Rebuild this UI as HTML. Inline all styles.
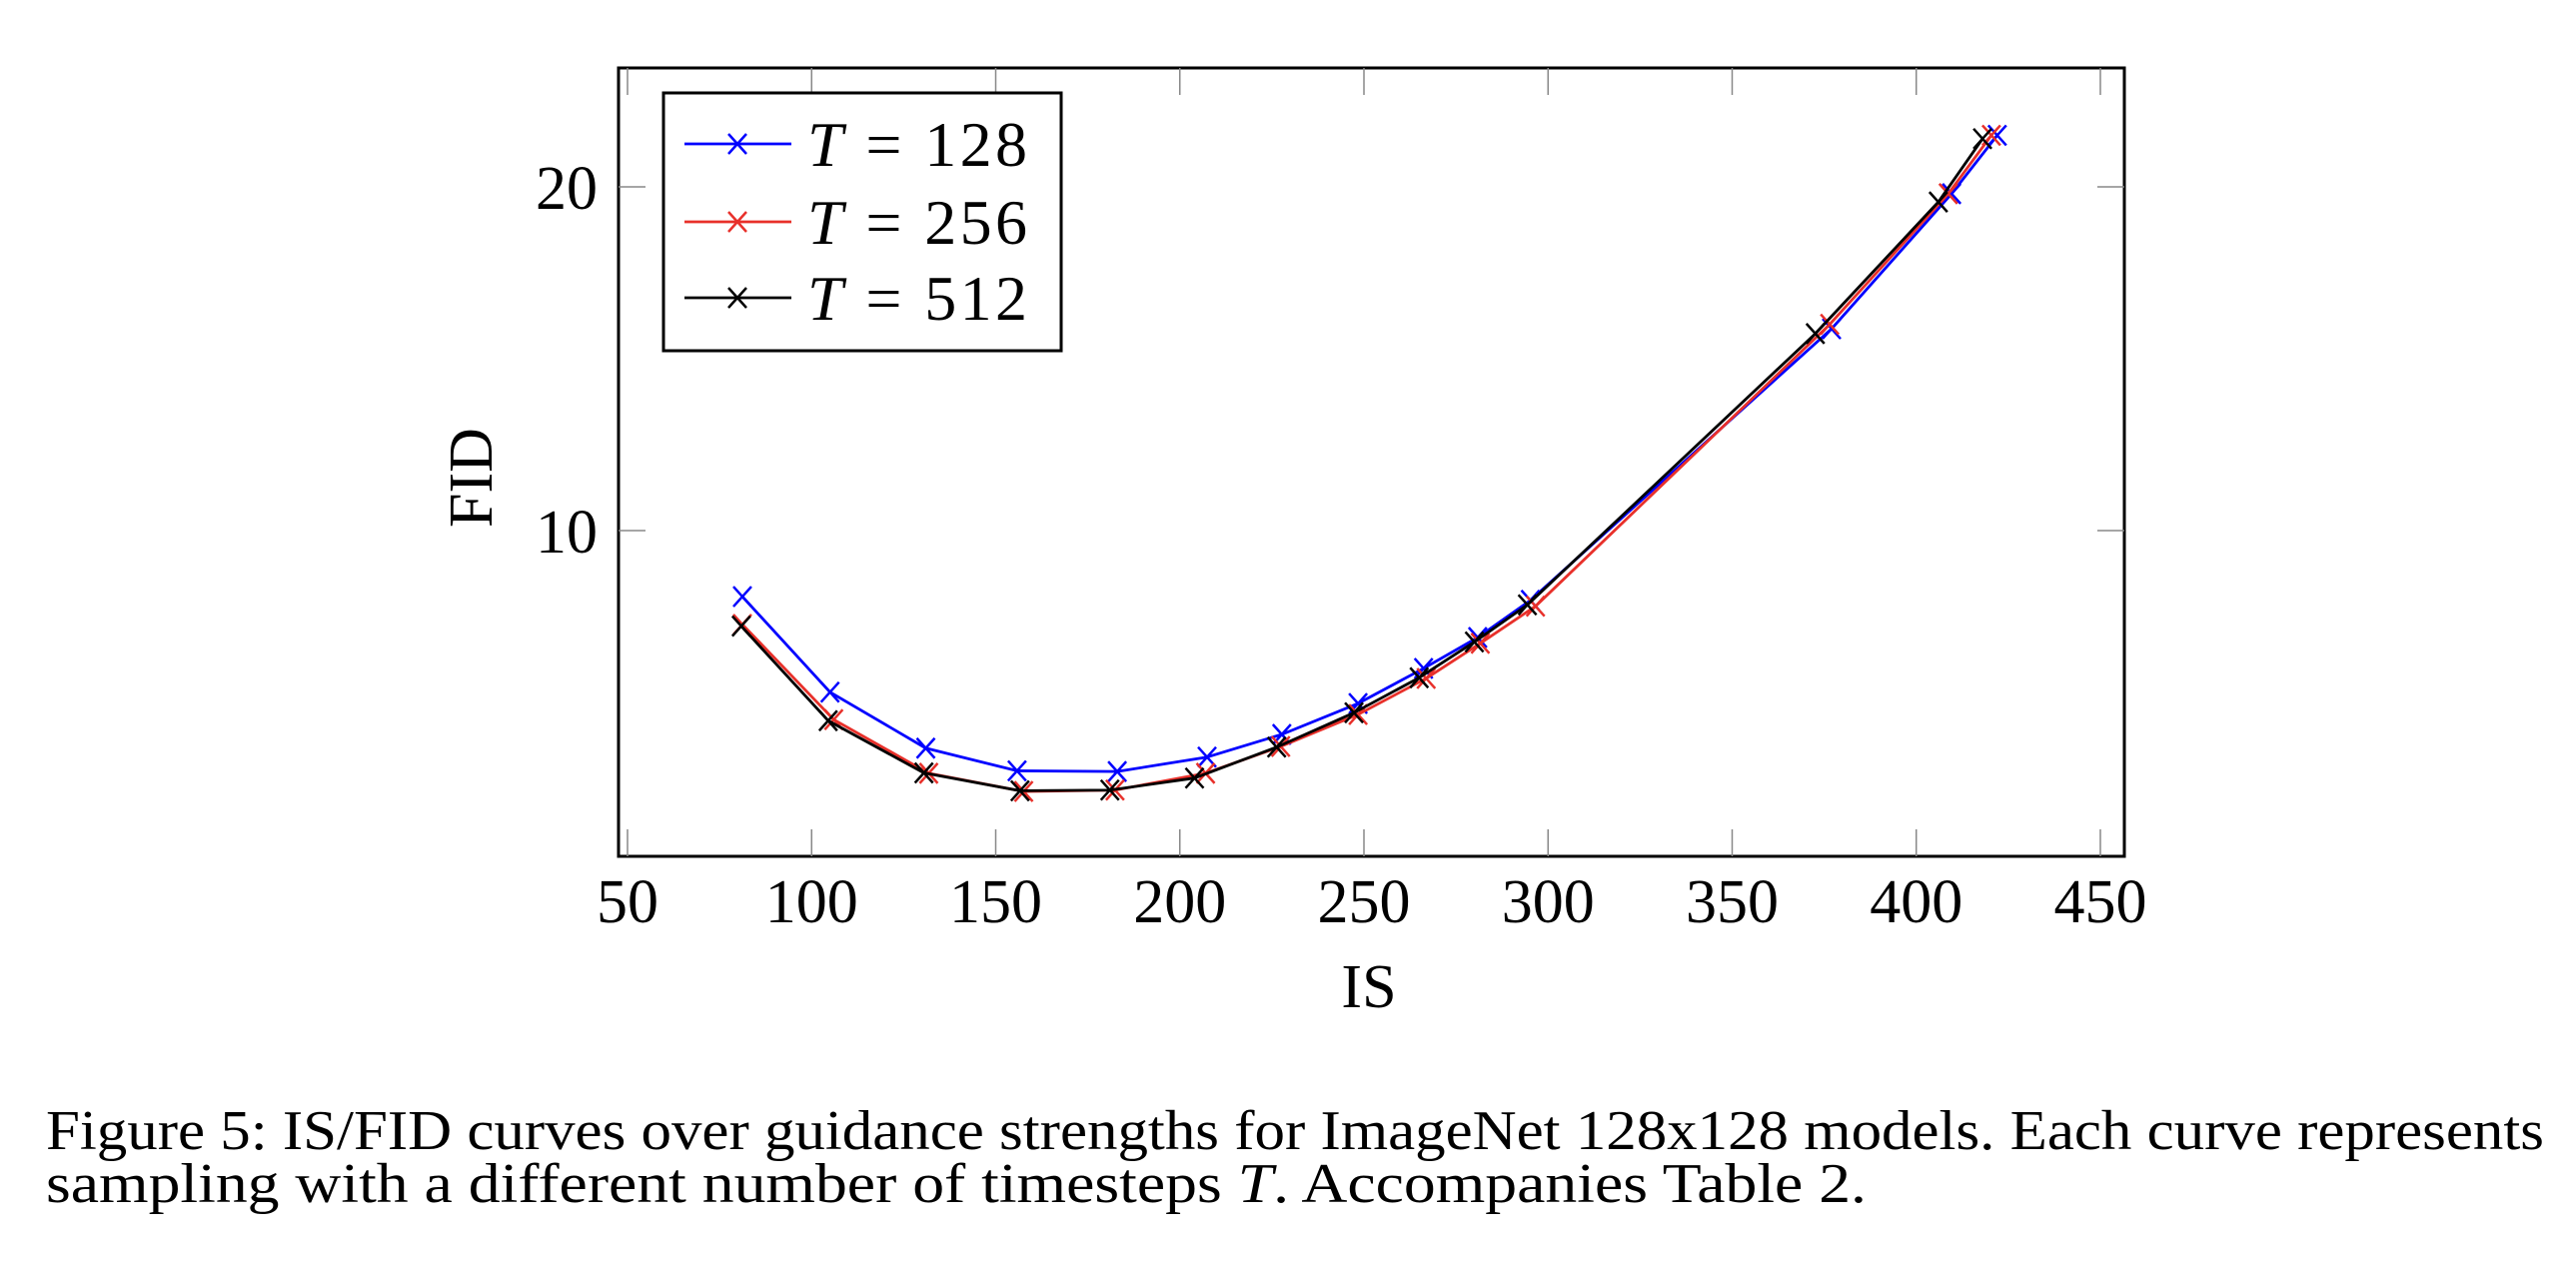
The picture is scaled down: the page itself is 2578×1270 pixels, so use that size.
<!DOCTYPE html>
<html><head><meta charset="utf-8"><style>
html,body{margin:0;padding:0;background:#fff;}
svg{display:block;}
text{font-family:"Liberation Serif",serif;fill:#000;}
</style></head><body>
<svg id="chart" width="2578" height="1270" viewBox="0 0 2578 1270" xmlns="http://www.w3.org/2000/svg">
<rect x="619" y="68" width="1507" height="789" fill="none" stroke="#000" stroke-width="3"/>
<g id="ticks"></g>
<g id="series"></g>
<text x="1370" y="1008" font-size="62" text-anchor="middle">IS</text>
<text transform="translate(492,478) rotate(-90)" font-size="62" text-anchor="middle">FID</text>
<g>
<rect x="664" y="93" width="398" height="258" fill="#fff" stroke="#000" stroke-width="3"/>
<g id="legend-items"></g>
</g>
<text x="46" y="1150" font-size="56" textLength="2500" lengthAdjust="spacingAndGlyphs">Figure 5: IS/FID curves over guidance strengths for ImageNet 128x128 models. Each curve represents</text>
<text x="46" y="1203" font-size="56" textLength="1822" lengthAdjust="spacingAndGlyphs">sampling with a different number of timesteps <tspan font-style="italic">T</tspan>. Accompanies Table 2.</text>
</svg>
<script>
const xTicks=[50,100,150,200,250,300,350,400,450];
const yTicks=[10,20];
const seriesNames=["T = 128","T = 256","T = 512"];
const seriesColors=["#0000ff","#e8302a","#000000"];
const is128=[81.2,105,131,155.8,183,207.4,227.7,248.4,266.2,280.9,295.2,377,409.6,422];
const fid128=[8.08,5.30,3.67,3.01,2.99,3.41,4.07,4.97,5.99,6.89,7.97,15.87,19.8,21.5];
const is256=[81.2,106,131.8,157.6,182.4,207,227.4,248.4,266.9,281.6,296.6,376.5,408.7,420.4];
const fid256=[7.27,4.5,2.94,2.41,2.45,2.94,3.72,4.65,5.70,6.72,7.80,16.0,19.8,21.5];
const is512=[80.9,104.5,130.5,156.6,181,204,226.3,247.3,265,280,294.4,372.6,406,418];
const fid512=[7.22,4.47,2.95,2.43,2.45,2.8,3.7,4.7,5.72,6.76,7.84,15.73,19.56,21.4];
const allIS=[is128,is256,is512], allFID=[fid128,fid256,fid512];
const NS="http://www.w3.org/2000/svg";
const X=v=>628+(v-50)*3.685;
const Y=v=>875-v*34.4;
function mk(tag,attrs,parent){const e=document.createElementNS(NS,tag);for(const k in attrs)e.setAttribute(k,attrs[k]);parent.appendChild(e);return e;}
const tg=document.getElementById('ticks');
xTicks.forEach(t=>{
  const a=mk('line',{x1:X(t),x2:X(t),y1:857,y2:830,stroke:'#888','stroke-width':1.5},tg);
  
  
  const b=mk('line',{x1:X(t),x2:X(t),y1:68,y2:95,stroke:'#888','stroke-width':1.5},tg);
  
  
  const l=mk('text',{x:X(t),y:923,'font-size':62,'text-anchor':'middle'},tg);
  l.textContent=t;
  
  
});
yTicks.forEach(t=>{
  const a=mk('line',{x1:619,x2:646,y1:Y(t),y2:Y(t),stroke:'#888','stroke-width':1.5},tg);
  
  
  const b=mk('line',{x1:2099,x2:2126,y1:Y(t),y2:Y(t),stroke:'#888','stroke-width':1.5},tg);
  
  
  const l=mk('text',{x:598,y:Y(t)+22,'font-size':62,'text-anchor':'end'},tg);
  l.textContent=t;
  
  
});
function cross(g,x,y,c){
  const p=mk('path',{d:`M${x-9},${y-10}L${x+9},${y+10}M${x-9},${y+10}L${x+9},${y-10}`,stroke:c,'stroke-width':2.5,fill:'none'},g);
  
  
}
const sg=document.getElementById('series');
allIS.forEach((xs,i)=>{
  const g=mk('g',{},sg);
  
  
  const pts=xs.map((v,j)=>X(v)+','+Y(allFID[i][j])).join(' ');
  const pl=mk('polyline',{points:pts,fill:'none',stroke:seriesColors[i],'stroke-width':2.8,'stroke-linejoin':'round'},g);
  
  
  xs.forEach((v,j)=>cross(g,X(v),Y(allFID[i][j]),seriesColors[i]));
});
const lg=document.getElementById('legend-items');
const rowY=[144,222,298];
seriesNames.forEach((n,i)=>{
  const g=mk('g',{},lg);
  
  
  mk('line',{x1:685,x2:792,y1:rowY[i],y2:rowY[i],stroke:seriesColors[i],'stroke-width':2.8},g);
  cross(g,738,rowY[i],seriesColors[i]);
  const t=mk('text',{x:808,y:rowY[i]+22,'font-size':64,textLength:220,lengthAdjust:'spacing'},g);
  t.innerHTML='<tspan font-style="italic">T</tspan> = '+n.split('= ')[1];
});
</script>
</body></html>
